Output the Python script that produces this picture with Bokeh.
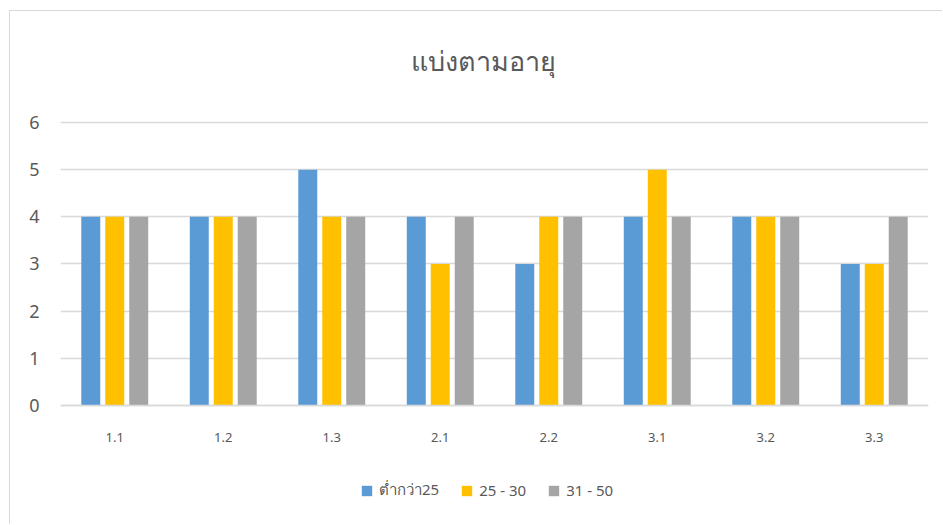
from bokeh.plotting import figure
from bokeh.models import FactorRange, Range1d, Legend, LegendItem, FixedTicker, Label
from bokeh.transform import dodge
from bokeh.embed import file_html
from bokeh.resources import INLINE

categories = ["1.1", "1.2", "1.3", "2.1", "2.2", "3.1", "3.2", "3.3"]
series_names = ["ต่ำกว่า25", "25 - 30", "31 - 50"]
under25 = [4, 4, 5, 4, 3, 4, 4, 3]
age25_30 = [4, 4, 4, 3, 4, 5, 4, 3]
age31_50 = [4, 4, 4, 4, 4, 4, 4, 4]
y_ticks = [0, 1, 2, 3, 4, 5, 6]
colors = ["#5B9BD5", "#FFC000", "#A5A5A5"]
title_text = "แบ่งตามอายุ"

FONT = "Noto Sans"
TXT = "#595959"

# frame spans the full height; value axis 0..6 occupies the middle part
p = figure(width=933, height=514, x_range=FactorRange(*categories, range_padding=0),
           y_range=Range1d(-2.544, 8.353),
           output_backend="svg", toolbar_location=None,
           min_border_left=50, min_border_right=15, min_border_top=0, min_border_bottom=0)
p.styles = {"margin-left": "9px", "margin-top": "10px",
            "border-left": "1px solid #d9d9d9", "border-top": "1px solid #d9d9d9"}

data = {"cat": categories, "s0": under25, "s1": age25_30, "s2": age31_50}
offsets = [-0.221, 0.0, 0.221]
renderers = []
for i, key in enumerate(["s0", "s1", "s2"]):
    r = p.vbar(x=dodge("cat", offsets[i], range=p.x_range), top=key, width=0.175,
               source=data, fill_color=colors[i], line_color=None)
    renderers.append(r)

p.outline_line_color = None
p.xgrid.grid_line_color = None
p.ygrid.ticker = FixedTicker(ticks=y_ticks)
p.ygrid.grid_line_color = "#d9d9d9"
p.ygrid.grid_line_width = 1.5
p.ygrid.level = "underlay"
p.yaxis.ticker = FixedTicker(ticks=y_ticks)
p.yaxis.axis_line_color = None
p.yaxis.major_tick_line_color = None
p.yaxis.minor_tick_line_color = None
p.yaxis.major_label_text_font_size = "18px"
p.yaxis.major_label_text_color = TXT
p.yaxis.major_label_text_font = FONT
p.yaxis.major_label_standoff = 15

p.xaxis.fixed_location = 0
p.xaxis.axis_line_color = "#d9d9d9"
p.xaxis.axis_line_width = 1.5
p.xaxis.major_tick_line_color = None
p.xaxis.minor_tick_line_color = None
p.xaxis.major_label_text_font_size = "13px"
p.xaxis.major_label_text_color = TXT
p.xaxis.major_label_text_font = FONT
p.xaxis.major_label_standoff = 21

title = Label(text=title_text, x=423, y=465, x_units="screen", y_units="screen",
              text_align="center", text_baseline="middle", text_font_size="27px",
              text_color=TXT, text_font=FONT)
p.add_layout(title)

legend = Legend(items=[LegendItem(label=series_names[i], renderers=[renderers[i]]) for i in range(3)],
                orientation="horizontal", location=(300, 23),
                label_text_font_size="15px", label_text_color=TXT, label_text_font=FONT,
                glyph_width=13, glyph_height=13, spacing=21, label_standoff=6,
                border_line_color=None, background_fill_alpha=0, margin=0, padding=0)
p.add_layout(legend, "center")

open("out.html", "w").write(file_html(p, INLINE))
